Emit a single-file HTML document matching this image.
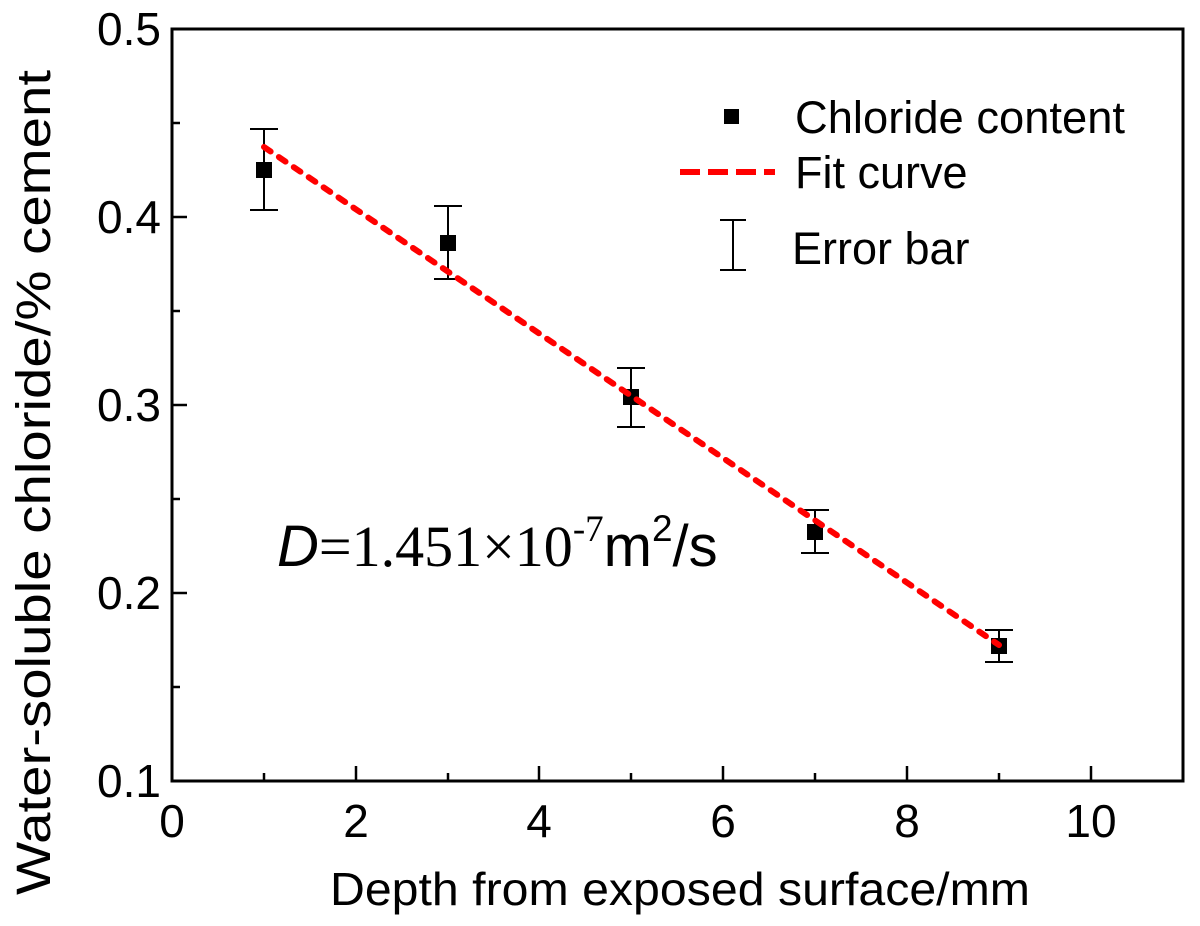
<!DOCTYPE html>
<html><head><style>body{margin:0;background:#fff}</style></head><body>
<svg width="1200" height="921" xmlns="http://www.w3.org/2000/svg" font-family="Liberation Sans, sans-serif">
<rect width="1200" height="921" fill="#fff"/>
<g stroke="#000" stroke-width="3" fill="none">
<rect x="172" y="29" width="1011" height="752"/>
</g>
<g stroke="#000" stroke-width="2.5">
<line x1="172" y1="781" x2="172" y2="766"/><line x1="356" y1="781" x2="356" y2="766"/><line x1="539" y1="781" x2="539" y2="766"/><line x1="723" y1="781" x2="723" y2="766"/><line x1="907" y1="781" x2="907" y2="766"/><line x1="1091" y1="781" x2="1091" y2="766"/>
<line x1="264" y1="781" x2="264" y2="773"/><line x1="448" y1="781" x2="448" y2="773"/><line x1="631" y1="781" x2="631" y2="773"/><line x1="815" y1="781" x2="815" y2="773"/><line x1="999" y1="781" x2="999" y2="773"/>
<line x1="172" y1="217" x2="187" y2="217"/><line x1="172" y1="405" x2="187" y2="405"/><line x1="172" y1="593" x2="187" y2="593"/>
<line x1="172" y1="123" x2="180" y2="123"/><line x1="172" y1="311" x2="180" y2="311"/><line x1="172" y1="499" x2="180" y2="499"/><line x1="172" y1="687" x2="180" y2="687"/>
</g>
<g font-size="46" fill="#000" text-anchor="middle">
<text x="172" y="837">0</text><text x="356" y="837">2</text><text x="539" y="837">4</text><text x="723" y="837">6</text><text x="907" y="837">8</text><text x="1091" y="837">10</text>
</g>
<g font-size="46" fill="#000" text-anchor="end">
<text x="161" y="45">0.5</text><text x="161" y="233">0.4</text><text x="161" y="421">0.3</text><text x="161" y="609">0.2</text><text x="161" y="797">0.1</text>
</g>
<text x="330" y="905" font-size="46" textLength="700" lengthAdjust="spacingAndGlyphs">Depth from exposed surface/mm</text>
<text transform="translate(50,895) rotate(-90)" font-size="48" textLength="825" lengthAdjust="spacingAndGlyphs">Water-soluble chloride/% cement</text>
<g stroke="#000" stroke-width="2">
<line x1="264" y1="129" x2="264" y2="210"/><line x1="250" y1="129" x2="278" y2="129"/><line x1="250" y1="210" x2="278" y2="210"/>
<line x1="448" y1="206" x2="448" y2="279"/><line x1="434" y1="206" x2="462" y2="206"/><line x1="434" y1="279" x2="462" y2="279"/>
<line x1="631" y1="368" x2="631" y2="427"/><line x1="617" y1="368" x2="645" y2="368"/><line x1="617" y1="427" x2="645" y2="427"/>
<line x1="815" y1="510" x2="815" y2="553"/><line x1="801" y1="510" x2="829" y2="510"/><line x1="801" y1="553" x2="829" y2="553"/>
<line x1="999" y1="630" x2="999" y2="662"/><line x1="985" y1="630" x2="1013" y2="630"/><line x1="985" y1="662" x2="1013" y2="662"/>
<line x1="733" y1="220" x2="733" y2="270"/><line x1="720" y1="220" x2="746" y2="220"/><line x1="720" y1="270" x2="746" y2="270"/>
</g>
<g fill="#000">
<rect x="256" y="162" width="16" height="16"/><rect x="440" y="235" width="16" height="16"/><rect x="623" y="389" width="16" height="16"/><rect x="807" y="524" width="16" height="16"/><rect x="991" y="638" width="16" height="16"/>
<rect x="724" y="109" width="15" height="15"/>
</g>
<line x1="264" y1="147" x2="999" y2="645" stroke="#f00" stroke-width="6" stroke-dasharray="8,10" stroke-linecap="round"/>
<line x1="680" y1="172" x2="775" y2="172" stroke="#f00" stroke-width="6" stroke-dasharray="20,8"/>
<g font-size="45" fill="#000">
<text x="795" y="133" textLength="330" lengthAdjust="spacingAndGlyphs">Chloride content</text>
<text x="795" y="188">Fit curve</text>
<text x="792" y="264">Error bar</text>
</g>
<text x="277" y="566" font-size="58" fill="#000"><tspan font-style="italic">D</tspan><tspan font-family="Liberation Serif, serif">=1.451×10</tspan><tspan font-family="Liberation Serif, serif" font-size="37" dy="-25">-7</tspan><tspan dy="25">m</tspan><tspan font-size="37" dy="-25">2</tspan><tspan dy="25">/s</tspan></text>
</svg>
</body></html>
